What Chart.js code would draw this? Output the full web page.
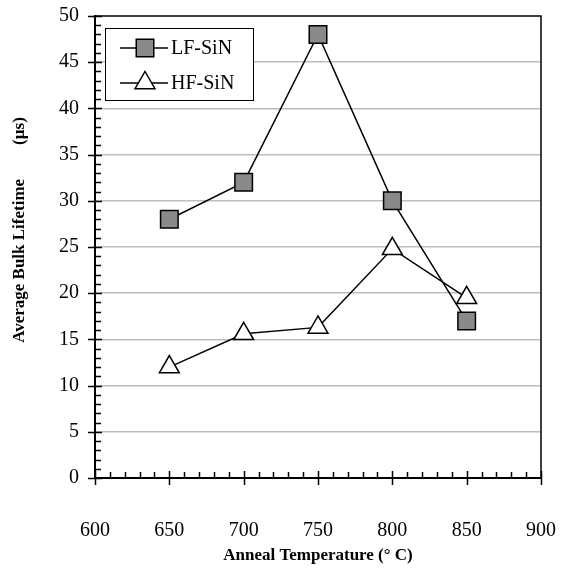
<!DOCTYPE html>
<html>
<head>
<meta charset="utf-8">
<script src="https://cdn.jsdelivr.net/npm/chart.js@4.4.1/dist/chart.umd.min.js"></script>
<style>
  html, body { margin: 0; padding: 0; background: #fff; }
  #wrap { width: 561px; height: 583px; position: relative; }
</style>
</head>
<body>
<div id="wrap"><canvas id="lifetimeChart" width="561" height="583"></canvas></div>
<script>
// --- dados ---
const temperatures = [650, 700, 750, 800, 850];
const lfSiN = [28, 32, 48, 30, 17];
const hfSiN = [12, 15.6, 16.3, 24.8, 19.5];
const seriesNames = ['LF-SiN', 'HF-SiN'];
const xTitle = 'Anneal Temperature (\u00B0 C)';
const yTitle = 'Average Bulk Lifetime        (\u00B5s)';

const SERIF = '"Liberation Serif", "DejaVu Serif", serif';

function toPoints(values) {
    return temperatures.map((t, i) => ({ x: t, y: values[i] }));
}

function drawMarker(ctx, style, r, cx, cy) {
    if (style === 'rect') {
        const s = r * Math.SQRT1_2;
        ctx.rect(cx - s, cy - s, 2 * s, 2 * s);
    } else {
        ctx.moveTo(cx, cy - r);
        ctx.lineTo(cx + r * 0.866, cy + r / 2);
        ctx.lineTo(cx - r * 0.866, cy + r / 2);
        ctx.closePath();
    }
}

// sem folga extra para rótulos que transbordam
function noOverflow(scale) {
    scale.paddingLeft = 0;
    scale.paddingRight = 0;
    scale.paddingTop = 0;
    scale.paddingBottom = 0;
}

// ticks, moldura, legenda e títulos desenhados à moda do Excel
const excelFrame = {
    id: 'excelFrame',
    afterDraw(chart) {
        const { ctx, chartArea: a, scales: { x, y } } = chart;
        ctx.save();
        ctx.strokeStyle = '#000';

        // moldura superior e direita
        ctx.lineWidth = 1.5;
        ctx.beginPath();
        ctx.moveTo(a.left, a.top);
        ctx.lineTo(a.right, a.top);
        ctx.lineTo(a.right, a.bottom);
        ctx.stroke();

        // ticks do eixo Y
        ctx.beginPath();
        for (let v = 0; v <= 50; v++) {
            const py = Math.round(y.getPixelForValue(v)) + 0.5;
            if (v % 5 === 0) {
                ctx.moveTo(a.left - 7, py);
                ctx.lineTo(a.left + 7, py);
            } else {
                ctx.moveTo(a.left, py);
                ctx.lineTo(a.left + 6, py);
            }
        }
        // ticks do eixo X
        for (let t = 600; t <= 900; t += 10) {
            const px = Math.round(x.getPixelForValue(t)) + 0.5;
            if (t % 50 === 0) {
                ctx.moveTo(px, a.bottom - 7);
                ctx.lineTo(px, a.bottom + 7);
            } else {
                ctx.moveTo(px, a.bottom);
                ctx.lineTo(px, a.bottom - 6);
            }
        }
        ctx.stroke();

        // legenda
        const box = { left: 105.5, top: 28.5, width: 148, height: 72 };
        ctx.fillStyle = '#fff';
        ctx.fillRect(box.left, box.top, box.width, box.height);
        ctx.lineWidth = 1;
        ctx.strokeRect(box.left, box.top, box.width, box.height);
        const rows = [48, 83];
        chart.data.datasets.forEach((ds, i) => {
            const ry = rows[i];
            ctx.strokeStyle = ds.borderColor;
            ctx.lineWidth = ds.borderWidth;
            ctx.beginPath();
            ctx.moveTo(120, ry);
            ctx.lineTo(168, ry);
            ctx.stroke();
            ctx.fillStyle = ds.pointBackgroundColor;
            ctx.strokeStyle = ds.pointBorderColor;
            ctx.lineWidth = ds.pointBorderWidth;
            ctx.beginPath();
            drawMarker(ctx, ds.pointStyle, ds.pointRadius, 145, ry);
            ctx.fill();
            ctx.stroke();
            ctx.fillStyle = '#000';
            ctx.font = '20px ' + SERIF;
            ctx.textAlign = 'left';
            ctx.textBaseline = 'middle';
            ctx.fillText(ds.label, 171, ry + 1);
        });

        // títulos dos eixos
        ctx.fillStyle = '#000';
        ctx.font = 'bold 17px ' + SERIF;
        ctx.textAlign = 'center';
        ctx.textBaseline = 'middle';
        ctx.fillText(xTitle, (a.left + a.right) / 2, 556);
        ctx.save();
        ctx.translate(20, 230);
        ctx.rotate(-Math.PI / 2);
        ctx.fillText(yTitle, 0, 0);
        ctx.restore();
        ctx.restore();
    }
};

const ctx = document.getElementById('lifetimeChart').getContext('2d');
new Chart(ctx, {
    type: 'line',
    data: {
        datasets: [{
            label: seriesNames[0],
            data: toPoints(lfSiN),
            borderColor: '#000',
            borderWidth: 1.5,
            pointStyle: 'rect',
            pointRadius: 12.4,
            pointBackgroundColor: '#8a8a8a',
            pointBorderColor: '#000',
            pointBorderWidth: 1.5,
            tension: 0
        }, {
            label: seriesNames[1],
            data: toPoints(hfSiN),
            borderColor: '#000',
            borderWidth: 1.5,
            pointStyle: 'triangle',
            pointRadius: 11.5,
            pointBackgroundColor: '#fff',
            pointBorderColor: '#000',
            pointBorderWidth: 1.5,
            tension: 0
        }]
    },
    options: {
        responsive: false,
        animation: false,
        layout: { padding: { top: 16, right: 20, left: 0, bottom: 0 } },
        plugins: { legend: { display: false }, tooltip: { enabled: false } },
        scales: {
            x: {
                type: 'linear',
                min: 600, max: 900,
                ticks: { stepSize: 50, color: '#000', padding: 41, font: { family: SERIF, size: 20 } },
                grid: { display: false, drawTicks: false },
                border: { color: '#000', width: 2 },
                afterFit(scale) { scale.height = 105; noOverflow(scale); }
            },
            y: {
                min: 0, max: 50,
                ticks: { stepSize: 5, color: '#000', padding: 16, font: { family: SERIF, size: 20 } },
                grid: {
                    color: (c) => (c.tick.value === 0 || c.tick.value === 50) ? 'rgba(0,0,0,0)' : '#bdbdbd',
                    lineWidth: 1.5,
                    drawTicks: false
                },
                border: { color: '#000', width: 2 },
                afterFit(scale) { scale.width = 95; noOverflow(scale); }
            }
        }
    },
    plugins: [excelFrame]
});
</script>
</body>
</html>
